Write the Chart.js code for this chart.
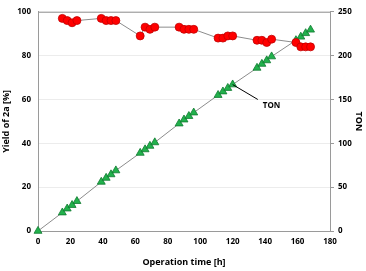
<!DOCTYPE html>
<html>
<head>
<meta charset="utf-8">
<script src="https://cdn.jsdelivr.net/npm/chart.js@4/dist/chart.umd.min.js"></script>
<style>
  html, body { margin: 0; padding: 0; background: #fff; }
  #wrap { width: 366px; height: 271px; }
</style>
</head>
<body>
<div id="wrap"><canvas id="tonChart" width="366" height="271"></canvas></div>
<script>
// operation time [h]
const hours = [15, 18, 21, 24, 39, 42, 45, 48, 63, 66, 69, 72, 87, 90, 93, 96,
    111, 114, 117, 120, 135, 138, 141, 144, 159, 162, 165, 168];
// yield of 2a [%]
const yieldVals = [97, 96, 95, 96, 97, 96, 96, 96, 89, 93, 92, 93, 93, 92, 92, 92,
    88, 88, 89, 89, 87, 87, 86, 87.5, 86, 84, 84, 84];
// TON (starts at 0 h)
const tonHours = [0].concat(hours);
const tonVals = [0, 21, 25.5, 29.5, 34, 56, 60.5, 64.5, 69, 89, 93, 97, 101,
    122.5, 127, 131, 135, 155, 159, 163, 167, 186, 190.5, 194.5, 199, 217.5, 221.5, 225.5, 229.5];
const xTicks = [0, 20, 40, 60, 80, 100, 120, 140, 160, 180];
// annotation: point it belongs to, and where the label sits (data units)
const tonNote = { text: "TON", at: [120, 167], end: [135.5, 150], label: [144, 143] };

const fontFam = "'Open Sans', 'Liberation Sans', sans-serif";

const notePlugin = {
    id: "tonNote",
    afterDatasetsDraw(chart) {
        const sx = chart.scales.x, sy = chart.scales.y2, ctx = chart.ctx;
        ctx.save();
        ctx.strokeStyle = "#000";
        ctx.lineWidth = 1;
        ctx.beginPath();
        ctx.moveTo(sx.getPixelForValue(tonNote.at[0]), sy.getPixelForValue(tonNote.at[1]));
        ctx.lineTo(sx.getPixelForValue(tonNote.end[0]), sy.getPixelForValue(tonNote.end[1]));
        ctx.stroke();
        ctx.fillStyle = "#000";
        ctx.font = "bold 8px " + fontFam;
        ctx.textAlign = "center";
        ctx.textBaseline = "middle";
        ctx.fillText(tonNote.text, sx.getPixelForValue(tonNote.label[0]), sy.getPixelForValue(tonNote.label[1]));
        ctx.restore();
    },
};

const boxPlugin = {
    id: "box",
    beforeDatasetsDraw(chart) {
        const a = chart.chartArea, ctx = chart.ctx;
        ctx.save();
        ctx.strokeStyle = "#9a9a9a";
        ctx.lineWidth = 1;
        ctx.beginPath();
        ctx.moveTo(a.left, a.top + 0.5);
        ctx.lineTo(a.right, a.top + 0.5);
        ctx.stroke();
        ctx.restore();
    },
};

document.addEventListener("DOMContentLoaded", function () {
    const el = document.getElementById("tonChart");
    new Chart(el.getContext("2d"), {
        type: "scatter",
        data: {
            datasets: [
                {
                    label: "Yield",
                    data: hours.map((h, i) => ({ x: h, y: yieldVals[i] })),
                    yAxisID: "y",
                    showLine: true,
                    clip: false,
                    borderColor: "#8c8c8c",
                    borderWidth: 1,
                    pointStyle: "circle",
                    pointRadius: 4,
                    pointBackgroundColor: "#ff0000",
                    pointBorderColor: "#c00000",
                    pointBorderWidth: 0.8,
                },
                {
                    label: "TON",
                    data: tonHours.map((h, i) => ({ x: h, y: tonVals[i] })),
                    yAxisID: "y2",
                    showLine: true,
                    clip: false,
                    borderColor: "#8c8c8c",
                    borderWidth: 1,
                    pointStyle: "triangle",
                    pointRadius: 4.6,
                    pointBackgroundColor: "#22b14c",
                    pointBorderColor: "#0f7a30",
                    pointBorderWidth: 0.8,
                },
            ],
        },
        options: {
            responsive: false,
            animation: false,
            events: [],
            layout: { padding: { left: 0, right: 0, top: 7, bottom: 0 } },
            plugins: {
                legend: { display: false },
                tooltip: { enabled: false },
            },
            scales: {
                x: {
                    type: "linear",
                    min: 0,
                    max: 180,
                    afterBuildTicks: (s) => { s.ticks = xTicks.map((v) => ({ value: v })); },
                    afterFit: (s) => { s.height = 40; },
                    grid: { display: false, drawTicks: false },
                    border: { color: "#9a9a9a" },
                    ticks: { color: "#000", padding: 6, maxRotation: 0, font: { family: fontFam, size: 8, weight: "bold" } },
                    title: {
                        display: true,
                        text: "Operation time [h]",
                        color: "#000",
                        padding: { top: 0, bottom: 3.5 },
                        font: { family: fontFam, size: 9, weight: "bold" },
                    },
                },
                y: {
                    position: "left",
                    min: 0,
                    max: 100,
                    afterFit: (s) => { s.width = 38; },
                    ticks: { stepSize: 20, color: "#000", padding: 7, font: { family: fontFam, size: 8, weight: "bold" } },
                    grid: { color: "#ececec", drawTicks: false },
                    border: { color: "#9a9a9a" },
                    title: {
                        display: true,
                        text: "Yield of 2a [%]",
                        color: "#000",
                        padding: { top: 1.5, bottom: 0 },
                        font: { family: fontFam, size: 9, weight: "bold" },
                    },
                },
                y2: {
                    position: "right",
                    min: 0,
                    max: 250,
                    afterFit: (s) => { s.width = 36; },
                    ticks: { stepSize: 50, color: "#000", padding: 4, font: { family: fontFam, size: 8, weight: "bold" } },
                    grid: { drawOnChartArea: false, tickLength: 4, color: "#9a9a9a" },
                    border: { color: "#9a9a9a" },
                    title: {
                        display: true,
                        text: "TON",
                        color: "#000",
                        padding: { top: 2.5, bottom: 0 },
                        font: { family: fontFam, size: 9, weight: "bold" },
                    },
                },
            },
        },
        plugins: [notePlugin, boxPlugin],
    });
});
</script>
</body>
</html>
